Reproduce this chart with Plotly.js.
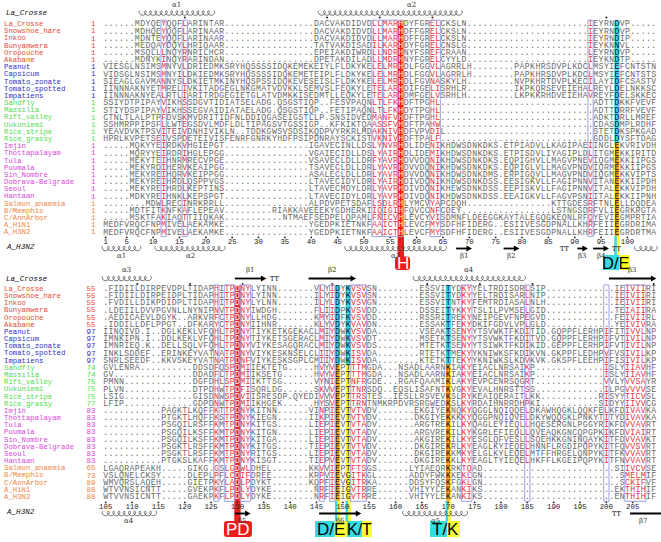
<!DOCTYPE html>
<html><head><meta charset="utf-8">
<script src="https://cdn.plot.ly/plotly-3.0.1.min.js"></script>
<style>html,body{margin:0;padding:0;background:#fff}#chart{width:661px;height:542px}</style>
</head><body><div id="chart"></div>
<script>
// ---------------- DATA ----------------
const names = ['La_Crosse','Snowshoe_hare','Inkoo','Bunyamwera','Oropouche','Akabane',
 'Peanut','Capsicum','Tomato_zonate','Tomato_spotted','Impatiens',
 'Sandfly','Massilia','Rift_valley','Uukuniemi','Rice_stripe','Rice_grassy',
 'Imjin','Thottapalayam','Tula','Puumala','Sin_Nombre','Dobrava-Belgrade','Seoul','Hantaan',
 'Salmon_anaemia','B/Memphis','C/AnnArbor','A_H1N1','A_H3N2'];
const groups = [0,0,0,0,0,0,1,1,1,1,1,2,2,2,2,2,2,3,3,3,3,3,3,3,3,4,4,4,4,4];
const groupColors = ['#e84b3c','#3030c8','#4ede4e','#dc48dc','#ef8646'];
const start1 = [1,1,1,1,1,1,1,1,1,1,1,1,1,1,1,1,1,1,1,1,1,1,1,1,1,1,1,1,1,1];
const start2 = [55,55,55,55,55,55,97,97,97,97,97,74,74,75,75,75,77,83,83,83,83,83,83,83,83,65,73,89,88,88];

// alignment rows ('|' separates fixed-width segments, '~' = run of gap dots)
const block1 = [
 "......MDYQEYQQFLARINTAR~|DACVAKDIDVDLLMARHDYFGRELCKSLN|~IEYRNDVP.....",
 "......MDHQEYQQFLARINAAR~|DACVAKDIDVDLLMARHDFFGRELCKSLN|~IEYRNDVP.....",
 "......MDNTEYQQFLARINAAR~|DACVAKDIDVDLLMARHDFFGRELCKSLN|~IEYRNDIP.....",
 "......MEDQAYDQYLHRIQAAR~|TATVAKDISADILKARHDYFGRELCNSLG|~IEYKNNVL.....",
 "......MSQLLLNQYRNRILHCR~|EPEIAKDIWRDLLNDRHNYFSREFCRAAN|~LEYRNDVP.....",
 "......MDNYKINQYRARINDAN~|DPETAKDILADLLMDRHNYFGRELCYYLD|~IEYKNDTP.....",
 "VIESGLNSIMSMNYVLDRIEDMKSRYHQSSSSIDQKEMEK|EIYLFLDKYKELELMRHDLFGGVLAGRRL|H~PAPKHRSDVPLKDCLMSYIEFCNTSTN",
 "VIDSGLNSIMSMNYILDKIEDMKSRYHQSSSSIDQKEMET|EIPLFLDKYKELELMRHDLFGGVLAGRRL|H~PAPKHRSDVPLKDCLMSYIEFCNTSTS",
 "SIEAGLGAVMANNYSLDKIETMKINYHQSPSSIDQKEVES|EISLFLDKYKELELMRHDLFGVNASKYLH|~NVPKHRTDVPLKECILAYIDFCSASTV",
 "IINNNAKNYETMRELIVKITADGEGLNKGMATVDVKKLSE|MVSLFEQKYLETELARHDIFGELISRHLR|~IKPKQRSEVEIEHALREYLDELNKKSC",
 "IINNNAKNYEALRTLIARITRDGEGIETGLATVDMKKISE|DMTLLEQKYLETELARHDMFGELVSRHLH|~LKPKKRHDVEIEHAVREYFDELSKKEC",
 "SSIYDTPIPAYVIKHSSDGVTIDIATSELADG.QSGSTIQ|P..FESVPAQNLTLFKHDFTPGHL~|~ADTTDKKFVEVF",
 "STIYDSPIPAYVIKHSSEGVAIDIATAELADG.QSGSTIQ|P..FETIPAQNLTLFKHDYTPGHL~|~ADTTDRRFVEVF",
 "CTNLTLALPTPFDVSKMVDRITIDFNLDDIQGASEIGSTL|LP.SNSIDVEDMANFVHDFTPGHL~|~ADKTDRLLMREF",
 "SSHMRPPIPSFLLWTEGSDVLMDFLDLTIPAGSVTGSSIG|P..KFKIKTQAASSFVHDFTPAHW~|~CDASDMPLRDHF",
 "YEAVDVKTPSVITEIVDNHIVIKLN..TDDKGWSVSDSIK|QDPVYRKRLMDAKNIVHDFVPVDIL~|~STETDKSPKGAD",
 "HPRLKVPETSEIVSPDETEIVISFENRFGNRKYHDFPSIP|DNRAYSCKISTVKNIVHDFTPALF~|~GDDLDYSFTDAG",
 ".....MQKYYEIRDKVHGIEPGT~I|GAVECINLLDSLYNVRHDLIDENIKHDWS|DNKDKS.ETPIADVLLKAGIPAEIINGLEKVRIVDH",
 ".....MQRYYEIRDRIHGLEPGG~V|GAIECIDLLDSLYAIRHDLIDEMIKHDWS|DNKDKS.ETPISDVLIYAGIPLDLITGMEKKIRITD",
 ".....MEKYTEIHNRMRECVPGE~V|SAVECLDLLDRFYAVRHDVVDQNIKHDWS|DNKDKS.EQPIGHVLLMAGVPNEVIQGMEKKIIPGS",
 ".....MEKYRDIHERVKEAIPGG~T|SAVECLDLLDRLYAVRHDVVDQNIKHDWS|DNKDKS.EQPIGLVLLMAGVPNDVIQRMEKKIIPGS",
 ".....MEKYREIHQRVKEIPPGG~A|SALECLDLLDRLYAVRHDVVDQNIKHDWS|DNKDMS.ERPIGQVLLMAGVPNDVIQGMEKKVIPTS",
 ".....MEKYREIHRDLQSPPVGS~L|TAVECIDYLDRLYAIRHDIVDQNIKHDWS|DNKDSS.EESIGKVLLFAGIPNNVITANEKKIIPDH",
 ".....MEKYREIHRDLKEPTINS~L|TAVECMDYLDRLYAVRHDIVDQNIKHEWS|DNKDSS.EEPISKVLLFAGIPNNVITALEKKVIPDH",
 ".....MDKYREIHNKLKEPSPGT~L|TAVECIDYLDRLYAVRHDIVDQNIKHDWS|DNKDSS.EEAIGKVLLFAGVPSNIITALEKKIIPNH",
 "........MDWLRECINRKRRLL~A|LPDVPETSDAFLSDLRHLYMCVYAPCDQH|~KTTGDESRFTNLELLDQDEA",
 ".....MDTFITKNFKAFLEPEAV~RIAKKAVE|EEKYGDHERKIIQIGIHFQVCCNFCDEY.|~LSTNGSDRFVLIEGRKRGTA",
 ".....MSKTFAKIAQTTIIQKAK~NTMAEF|SEDPELQPAMLFNICVHLEVCYVISDMNF|LDEEGGKAYTALEGQGKEQNLRFQYEVIEGMPRTIA",
 "MEDFVRQCFNPMIVELAEKAMKE~Y|GEDPKIETNKFAAICTHLEVCFMYSDFHF|IDERG..ESIIVESGDPNALLKHRFEIIEGRDRIMA",
 "MEDFVRQCFNPMIVELAEKAMKE~Y|GEDPKIETNKFAAICTHLEVCFMYSDFHF|IDERG..ESIIVESGDPNALLKHRFEIIEGRDRTMA"
];
const block2 = [
 ".FIDIILDIRPEVDPLTIDAPHITP|DNYLYINN~VLYI|DYKVSVSN~ESSVI|TYDKYYELTRDISDRLSIP~IEIVIIRI",
 ".FIDIILDIRPEIDPLTIDAPHITP|DNYLYINN~ILYI|DYKVSVSN~ESSVI|TYDKYYELTRDISARLNIP~IEIVIIRI",
 ".FVDILLDIKPDIDPLTIDAPHITP|DNYLYLNN~ILYL|DYKVSVGN~ESSVI|TNTKYFEMTRDIASALNLH~IEIVIIRI",
 ".LDEIILDVVPGVNLLNYNIPNVTP|DNYIWDGH~FLII|DPKVSVDD~DSSEI|TYKKYTSLILPVMSELGID~TEIAIIRA",
 ".AEDICAEVLDGYK..ARKVRFCTP|DNYLLHDG~KMYI|DFKVSVDD~RSSRI|TREKYNEIPGEVFNPEGVD~FEIVIIRL",
 ".IDDILLDFLPPGT..DFKARYCTP|DNYIIHNR~KLYV|DYKVAVDN~ESSAK|TFEKYDKIFGDVLVPLGLD~YEIVIVRA",
 "IINQIVD.I..DGLKEKLVFQHLTP|DNYTIYKETKGEKACLMIY|DWKVSVDA~VSEAK|TSENYYTSVWKTFKDITID.GQPPFLERHPIFITIVVLNP",
 "IMNKIPN.I..DDLKEKLVFQHLTP|DNYTIYKETSGERACLMIY|DWKVSVDT~MSETK|TSENYYTSVWKTFKDITVD.GQPPFLERHPIFVTIVILNP",
 "IMNRIEQ.K..DELLSQLVFQHLTP|DNYVIYKESAGQRACLMIY|DWKVSVDS~MTETK|TSENYYTSIWKTFKDIKID.GEPPFLERHPIFVTIVILNP",
 "INKLSDDEF..ERINKEYVATNATP|DNYVIYKESKNSELCLIIY|DWKISVDA~RTETK|TMEKYYKNIWKSFKDIKVN.GKPPFLEDHPVFVSIVILKP",
 "SNRLSEEDF..KKVSKEYVATNATP|DNFVIYKESKSGPLCMIIY|DWKISVDA~KTETK|TTEKYYKNIWKSLKDVKVK.GKSPFLEEHPIFISIVILKP",
 "GVLENRA~DDSDFQSP|DMIIEKTETG~HVYV|EPTTTMGDA...NSADLAARN|KIAKYEIACLNRSAIKP~ISLYIIAVHF",
 "GV~DDADFLTP|DMIIKSETG~HVYV|EPTTTMGDA...NSADLAARN|KIAKYEIACLNRSAIKP~ISLYIIAVHF",
 "PMNN~DGFDHLSP|DMIIKTTSG~VYNI|EPTNFRGDE...RGAFQAAMI|KLAKYEVPCENRSQGRT~VVLYVVSAYR",
 "PLVN~DTPDHWTP|DFISQRLDG~SKVV|EPTTNRSDQ..EQSLISAFNT|KVGKYEVALHNRSTTSS~ILPGVVVVSE",
 "LSIG~GISDNWSP|DVIISRESDP.QYEDIVVV|EPTTRSTES..IESLLRSVEV|KSLRYKEAIQERAITLKK~RISYYTICVSL",
 "LFIP~GDPDNWTP|DMIIKHGEK~HYSV|EPTTRNTNMKRPDVRSRGWED|KSLKYRDAIHNRRDHPKI~SIDYYIIVVCG",
 "~PAGKTLKQFFKTTP|DNYKITNN~VINPI|EVTVTVDV~EKGIYE|KNQKYQGGLNQIQQELDKAWHQGKLQQKFELKFDIVAVKA",
 "~PTGKTLHQFFKSTP|DNYKIEGN~IIKPI|EVTVTVDV~DKGIYE|KKKKYQGGPNQIQVELDKYWQQGKLPNKYTITYDIVAVKA",
 "~PSGQILRSFFKMTP|DNYKITGS~LIEPI|EVTVTADV~ARGTRE|KILKYQAGLEYIEQLLHQESERGNLPGGYRIKFDVVAVRT",
 "~PSGQILKSFFKMTP|DNYKITGN~LIEPI|EVTVTADV~ARGVRE|KILKYKGRLEFIEQLLQVEAQKGNCQPGPKIKFDVIAIRT",
 "~PSGQILKSFFKMTP|DNYKITGA~LIEPI|EVTVTADV~AKGIRE|KILKYESGLQFVESLLSQEHKKGNINQAYKITFDVVAVKT",
 "~PSGKTLRSFFKMTP|DNYKITGS~TIEPI|EVTVTVDV~DKGIRE|KRLKYEAGLKYIEQELHNNFLRGDIPQPYKITFQVVSVRT",
 "~PSGKTLRSFFKMTP|DNYRITGS~LIEPI|EVTVTADV~DKGIRE|KKMKYELGLKYLEQELMTFFHRGELQNPYKITFKVVAVRT",
 "~PTGKSLKAFFKMTP|DNYKISGT~TIEPV|EVTVTADV~DKGIRE|KKLKYEAGLTYIEQELHKFFLKGEIPQPYKITFNVVAVRT",
 "LGAQRAPEAKH~GIKG.GSLG|DWLDHEL~KKVVI|EPTFTSGS~LYIAEQR|KRKTQAD~SIIVCVSE",
 "VSLQNELCKSY~DLEPLPFLC|DIFDREE~KRPVI|EVGITKGL~ADDYFWK|KKEKLGN~SMELMIF",
 "WMVQRSLAQEH~GIETPKYLA|DLPDYKT~KQPFI|EVGITRKA~DDSYFQS|KFGKLGN~SCKIFVF",
 "WTVVNSICNTT~GVEKPKFLP|DLYDYKE~NRFI|EIGVTRRE~VHIYYLE|KANKIKS~EKTHIHIF",
 "WTVVNSICNTT~GAEKPKFLP|DLYDYKE~NRFI|EIGVTRRE~VHIYYLE|KANKIKS~ENTHIHIF"
];
const segWidths1 = [40, 29, 36];
const segWidths2 = [25, 19, 21, 40];

// conserved / similar columns (0-based alignment columns within each block)
const identCols1 = [56];                  // H (red)
const identCols2 = [25];                  // PD (red)
const catCols1 = [97];                    // D/E
const catCols2 = [44, 46, 65];            // D/E, K/T, T/K
const catSplitRow1 = 17;                  // rows >= this are yellow
const catSplitRow2 = 11;
const orangeCols1 = [97];
const orangeCols2 = [44, 65];
const redCols1 = [11, 15, 51, 52, 53, 54, 55, 62, 63, 92];
const redCols2 = [21, 23, 24, 26, 27, 41, 43, 47, 48, 49, 68, 69, 80, 95, 99, 100, 101, 102];
const boxes1 = [[11,11],[15,15],[51,52],[53,56],[62,63],[92,92]];
const boxes2 = [[21,21],[23,24],[26,27],[41,41],[43,43],[47,49],[68,69],[80,80],[95,95],[99,102]];

const rulerLabels1 = [1,5,10,15,20,25,30,35,40,45,50,55,60,65,70,75,80,85,90,95,100];
const rulerLabels2 = [105,110,115,120,125,130,135,140,145,150,155,160,165,170,175,180,185,190,195,200,205];

// secondary structure (column spans)
const ssTop1 = [{t:'helix',a:7,b:20,n:'α1'},{t:'helix',a:41,b:67,n:'α2',at:58}];
const ssBot1 = [{t:'helix',a:0,b:6,n:'α1'},{t:'helix',a:10,b:22,n:'α2'},{t:'helix',a:46,b:64,n:'α3'},
  {t:'strand',a:67,b:69,n:'β1'},{t:'strand',a:76,b:78,n:'β2'},{t:'turn',a:87,b:87},
  {t:'strand',a:90,b:91,n:'β3'},{t:'strand',a:93,b:95,n:'β4'},{t:'turn',a:97,b:97},{t:'helix',a:101,b:104,n:''}];
const ssTop2 = [{t:'helix',a:0,b:8,n:'α3'},{t:'strand',a:25,b:30,n:'β1'},{t:'turn',a:32,b:32},
  {t:'strand',a:39,b:47,n:'β2'},{t:'helix',a:59,b:79,n:'α4'},{t:'strand',a:96,b:104,n:'β3'}];
const ssBot2 = [{t:'helix',a:0,b:9,n:'α4'},{t:'strand',a:25,b:27,n:'β5'},{t:'strand',a:41,b:48,n:'β6'},
  {t:'helix',a:57,b:68,n:'α5'},{t:'turn',a:97,b:97},{t:'cont',a:100,b:104,n:'β7'}];

// function labels
const siteLabels1 = [{text:'H', col:56, kind:'red'}, {text:'D/E', col:97, kind:'cy'}];
const siteLabels2 = [{text:'PD', col:25, kind:'red'}, {text:'D/E', col:44, kind:'cy'},
  {text:'K/T', col:46, kind:'cy'}, {text:'T/K', col:65, kind:'cy'}];

// ---------------- LAYOUT HELPERS ----------------
const CW = 5.27, X0 = 105.7, RH = 7.18;
const BY = [24.3, 289];
const colX = i => X0 + i*CW;
const rowY = (b, r) => BY[b] + r*RH;
const MONO = 'Liberation Mono, DejaVu Sans Mono, monospace';
const SANS = 'Liberation Sans, Arial, sans-serif';
const SERIF = 'DejaVu Serif, Liberation Serif, serif';
const labelGeom = {
  '0:H':{dx:1.7, w:15, fs:17, y0:256.5}, '0:D/E':{dx:-0.4, w:27, sp:0.6, fs:16.5},
  '1:PD':{dx:0.5, w:28, fs:17}, '1:D/E':{dx:-6.6, w:32, sp:0.62, fs:17},
  '1:K/T':{dx:11.4, w:25, sp:0.6, fs:16}, '1:T/K':{dx:-3.2, w:30, sp:0.57, fs:17}
};

function expand(row, widths){
  return row.split('|').map((s,k)=>{
    const w = widths[k];
    if (s.includes('~')) {
      const p = s.split('~');
      s = p[0] + '.'.repeat(Math.max(0, w - p[0].length - p[1].length)) + p[1];
    }
    if (s.length < w) s += '.'.repeat(w - s.length);
    return s.slice(0, w);
  }).join('');
}

const traces = [];
const shapes = [];
const annotations = [];
const C = {
  gray:{x:[],y:[],t:[],color:'#686868'}, red:{x:[],y:[],t:[],color:'#e8333a'},
  white:{x:[],y:[],t:[],color:'#ffffff'}, black:{x:[],y:[],t:[],color:'#111133'}
};
const BLOCKS = [
  {rows:block1, w:segWidths1, ident:identCols1, cat:catCols1, split:catSplitRow1, orange:orangeCols1,
   red:redCols1, boxes:boxes1, ruler:rulerLabels1, rOff:1, starts:start1, top:ssTop1, bot:ssBot1, labels:siteLabels1,
   hdrY:13, dotY:17.6, ssTopY:13, rulY:242, botHdrY:247, ssBotY:248.5, labY0:255, labY1:270},
  {rows:block2, w:segWidths2, ident:identCols2, cat:catCols2, split:catSplitRow2, orange:orangeCols2,
   red:redCols2, boxes:boxes2, ruler:rulerLabels2, rOff:105, starts:start2, top:ssTop2, bot:ssBot2, labels:siteLabels2,
   hdrY:278.5, dotY:284, ssTopY:278.5, rulY:507, botHdrY:512, ssBotY:513.5, labY0:521, labY1:537}
];

const coil = {x:[], y:[]};
BLOCKS.forEach((B, b) => {
  const nR = B.rows.length;
  const yTop = rowY(b,0) - RH/2, yBot = rowY(b,nR-1) + RH/2, ySplit = rowY(b,B.split) - RH/2;
  B.ident.forEach(c => shapes.push({type:'rect', layer:'below', x0:colX(c)-3.2, x1:colX(c)+3.2, y0:yTop, y1:B.labY0+2,
    fillcolor:'#ee1c1c', line:{width:0}}));
  B.cat.forEach(c => {
    shapes.push({type:'rect', layer:'below', x0:colX(c)-CW/2, x1:colX(c)+CW/2, y0:yTop, y1:ySplit, fillcolor:'#36dbe3', line:{width:0}});
    shapes.push({type:'rect', layer:'below', x0:colX(c)-CW/2, x1:colX(c)+CW/2, y0:ySplit, y1:yBot, fillcolor:'#ffff2e', line:{width:0}});
    if (B.orange.includes(c))
      shapes.push({type:'rect', layer:'below', x0:colX(c)-1.9, x1:colX(c)+1.9, y0:ySplit, y1:yBot, fillcolor:'#f7a11e', line:{width:0}});
    shapes.push({type:'rect', layer:'below', x0:colX(c)-CW/2, x1:colX(c), y0:yBot, y1:B.labY0+1, fillcolor:'#36dbe3', line:{width:0}});
    shapes.push({type:'rect', layer:'below', x0:colX(c), x1:colX(c)+CW/2, y0:yBot, y1:B.labY0+1, fillcolor:'#ffff2e', line:{width:0}});
  });
  B.boxes.forEach(([a,z]) => shapes.push({type:'rect', layer:'above', x0:colX(a)-CW/2, x1:colX(z)+CW/2,
    y0:yTop-0.5, y1:yBot+0.5, fillcolor:'rgba(0,0,0,0)', line:{color:'#a0a0e2', width:1}}));
  B.rows.forEach((row, r) => {
    const s = expand(row, B.w);
    for (let c = 0; c < s.length; c++) {
      const ch = s[c];
      let k = 'gray';
      if (ch !== '.') {
        if (B.ident.includes(c)) k = 'white';
        else if (B.cat.includes(c)) k = 'black';
        else if (B.red.includes(c)) k = 'red';
      }
      C[k].x.push(colX(c)); C[k].y.push(rowY(b,r)); C[k].t.push(ch);
    }
  });
  traces.push({type:'scatter', mode:'text', x:names.map(()=>4), y:names.map((_,r)=>rowY(b,r)), text:names,
    textposition:'middle right', textfont:{family:MONO, size:7.3, color:groups.map(g=>groupColors[g])}, hoverinfo:'skip'});
  traces.push({type:'scatter', mode:'text', x:names.map(()=>95.5), y:names.map((_,r)=>rowY(b,r)), text:B.starts.map(String),
    textposition:'middle left', textfont:{family:MONO, size:7.6, color:groups.map(g=>groupColors[g])}, hoverinfo:'skip'});
  annotations.push({x:4, y:B.hdrY, xref:'x', yref:'y', text:'La_Crosse', showarrow:false, xanchor:'left', yanchor:'middle',
    font:{family:MONO, size:7.6, color:'#111', style:'italic'}});
  annotations.push({x:4, y:B.botHdrY, xref:'x', yref:'y', text:'A_H3N2', showarrow:false, xanchor:'left', yanchor:'middle',
    font:{family:MONO, size:7.6, color:'#111', style:'italic'}});
  const ref = expand(B.rows[0], B.w);
  let resN = B.starts[0] - 1; const dx = [], dy = [];
  for (let c = 0; c < ref.length; c++) if (ref[c] !== '.') { resN++; if (resN % 10 === 0) { dx.push(colX(c)); dy.push(B.dotY); } }
  traces.push({type:'scatter', mode:'markers', x:dx, y:dy, marker:{size:2, color:'#222'}, hoverinfo:'skip'});
  traces.push({type:'scatter', mode:'text', x:B.ruler.map(n=>colX(n-B.rOff)), y:B.ruler.map(()=>B.rulY), text:B.ruler.map(String),
    textposition:'middle center', textfont:{family:MONO, size:7.4, color:'#222'}, hoverinfo:'skip'});
  traces.push({type:'scatter', mode:'markers', x:B.ruler.map(n=>colX(n-B.rOff)), y:B.ruler.map(()=>B.rulY-4.6),
    marker:{size:1.8, color:'#222'}, hoverinfo:'skip'});
  [[B.top, B.ssTopY, -8.3], [B.bot, B.ssBotY, 7.2]].forEach(([list, y0, lo]) => {
    list.forEach(e => {
      const xs = colX(e.a) - CW/2, xe = colX(e.b) + CW/2;
      if (e.t === 'helix') {
        const n = e.b - e.a + 1;
        for (let i = 0; i <= n*20; i++) {
          const t = i/20;
          coil.x.push(xs + t*CW - 2.1*Math.sin(2*Math.PI*t));
          coil.y.push(y0 - 2.4*Math.cos(2*Math.PI*t));
        }
        coil.x.push(null); coil.y.push(null);
      } else if (e.t === 'strand') {
        shapes.push({type:'line', x0:xs, x1:xe-4, y0:y0, y1:y0, line:{color:'#000', width:1.8}});
        shapes.push({type:'path', path:`M${xe},${y0} L${xe-5.5},${y0-3} L${xe-5.5},${y0+3} Z`, fillcolor:'#000', line:{width:0}});
      } else if (e.t === 'cont') {
        shapes.push({type:'line', x0:xs, x1:xe+6, y0:y0, y1:y0, line:{color:'#000', width:1.8}});
      } else if (e.t === 'turn') {
        annotations.push({x:colX(e.a), y:y0, xref:'x', yref:'y', text:'TT', showarrow:false,
          font:{family:SERIF, size:6.5, color:'#000'}});
      }
      if (e.n) annotations.push({x:(e.at !== undefined ? colX(e.at) : (xs+xe)/2), y:y0+lo, xref:'x', yref:'y', text:e.n,
        showarrow:false, font:{family:SERIF, size:7, color:'#333'}});
    });
  });
  B.labels.forEach(L => {
    const g = labelGeom[b + ':' + L.text];
    const cx = colX(L.col) + g.dx, w = g.w;
    const x0 = cx - w/2, x1 = cx + w/2, y0 = (g.y0 !== undefined ? g.y0 : B.labY0), y1 = B.labY1;
    if (L.kind === 'red') {
      const rr = 3;
      shapes.push({type:'path', layer:'below', path:`M${x0+rr},${y0} L${x1-rr},${y0} Q${x1},${y0} ${x1},${y0+rr} L${x1},${y1-rr} Q${x1},${y1} ${x1-rr},${y1} L${x0+rr},${y1} Q${x0},${y1} ${x0},${y1-rr} L${x0},${y0+rr} Q${x0},${y0} ${x0+rr},${y0} Z`,
        fillcolor:'#ee1c1c', line:{width:0}});
      annotations.push({x:cx, y:(y0+y1)/2+0.5, xref:'x', yref:'y', text:L.text, showarrow:false,
        font:{family:SANS, size:g.fs, color:'#fff'}});
    } else {
      const xm = x0 + w*g.sp;
      shapes.push({type:'rect', layer:'below', x0:x0, x1:xm, y0:y0, y1:y1, fillcolor:'#36dbe3', line:{width:0}});
      shapes.push({type:'rect', layer:'below', x0:xm, x1:x1, y0:y0, y1:y1, fillcolor:'#ffff2e', line:{width:0}});
      annotations.push({x:cx, y:(y0+y1)/2+0.5, xref:'x', yref:'y', text:L.text, showarrow:false,
        font:{family:SANS, size:g.fs, color:'#000'}});
    }
  });
});

traces.push({type:'scatter', mode:'lines', x:coil.x, y:coil.y, line:{color:'#444', width:0.7}, hoverinfo:'skip', connectgaps:false});
Object.values(C).forEach(k => traces.push({type:'scatter', mode:'text', x:k.x, y:k.y, text:k.t,
  textposition:'middle center', textfont:{family:MONO, size:8.2, color:k.color}, hoverinfo:'skip', cliponaxis:false}));

const layout = {
  width:661, height:542, margin:{l:0, r:0, t:0, b:0}, paper_bgcolor:'#fff', plot_bgcolor:'#fff', showlegend:false,
  xaxis:{range:[0,661], visible:false, fixedrange:true},
  yaxis:{range:[542,0], visible:false, fixedrange:true},
  shapes:shapes, annotations:annotations
};
Plotly.newPlot('chart', traces, layout, {staticPlot:true, displayModeBar:false});
</script>
</body></html>
